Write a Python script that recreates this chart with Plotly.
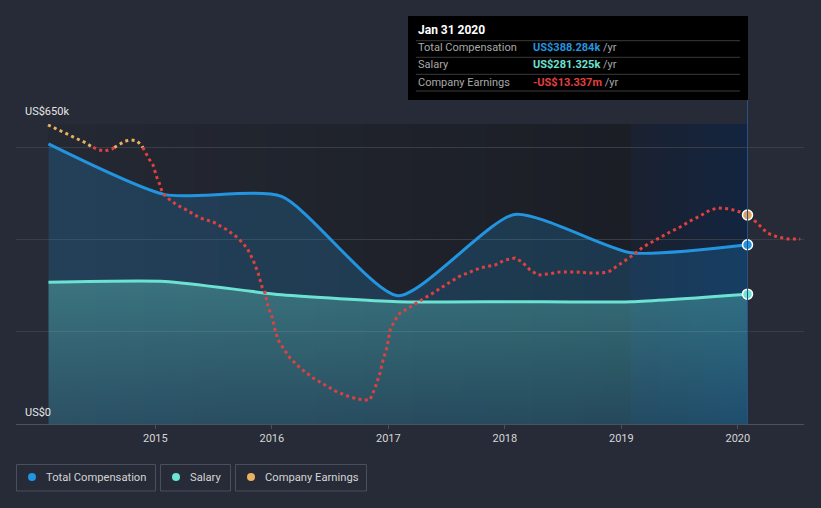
import plotly.graph_objects as go

# ---------------- data ----------------
comp_years = [2014.083, 2015.083, 2016.083, 2017.083, 2018.083, 2019.083, 2020.083]
total_comp = [607, 497, 493, 278, 454, 371, 388.284]      # US$k
salary = [307, 309, 280, 265, 265, 265, 281.325]           # US$k

earn_years = [2014.079, 2014.139, 2014.191, 2014.242, 2014.294, 2014.354, 2014.405, 2014.457,
              2014.517, 2014.568, 2014.628, 2014.680, 2014.740, 2014.791, 2014.843, 2014.886,
              2014.920, 2014.946, 2014.980, 2014.997, 2015.015, 2015.040, 2015.058, 2015.092,
              2015.135, 2015.186, 2015.238, 2015.298, 2015.384, 2015.496, 2015.616, 2015.710,
              2015.787, 2015.839, 2015.882, 2015.916, 2015.942, 2015.968, 2016.002, 2016.028,
              2016.054, 2016.097, 2016.156, 2016.242, 2016.354, 2016.457, 2016.560, 2016.671,
              2016.783, 2016.843, 2016.886, 2016.929, 2016.955, 2016.989, 2017.015, 2017.058,
              2017.101, 2017.187, 2017.290, 2017.384, 2017.504, 2017.616, 2017.788, 2017.916,
              2018.002, 2018.088, 2018.148, 2018.217, 2018.285, 2018.371, 2018.474, 2018.603,
              2018.732, 2018.835, 2018.903, 2019.006, 2019.101, 2019.187, 2019.290, 2019.402,
              2019.505, 2019.590, 2019.676, 2019.762, 2019.831, 2019.934, 2020.020, 2020.083,
              2020.166, 2020.252, 2020.338, 2020.433, 2020.536]
earnings = [4.45, 3.85, 3.26, 2.67, 2.08, 1.48, 0.89, 0.10,
            -0.49, -0.69, -0.30, 0.49, 1.28, 1.48, 1.28, 0.30,
            -1.28, -2.27, -3.46, -4.84, -6.03, -7.41, -8.79, -9.78,
            -10.57, -11.36, -11.96, -12.75, -13.93, -14.72, -16.30, -17.89,
            -19.86, -22.23, -24.80, -27.57, -28.75, -31.52, -33.50, -36.07,
            -38.04, -39.62, -41.60, -43.58, -45.55, -46.93, -48.32, -49.31,
            -49.90, -49.90, -47.53, -44.57, -42.00, -39.43, -36.07, -34.09,
            -32.71, -31.52, -30.14, -28.75, -26.98, -25.40, -23.81, -23.22,
            -22.23, -21.84, -22.63, -24.21, -25.20, -25.00, -24.60, -24.60,
            -24.80, -24.80, -24.41, -22.83, -21.25, -19.66, -18.28, -16.90,
            -15.71, -14.53, -13.54, -12.35, -11.96, -12.15, -12.75, -13.337,
            -14.92, -16.90, -17.69, -18.08, -18.08]                # US$m

tick_vals = [2015, 2016, 2017, 2018, 2019, 2020]
tick_text = ["2015", "2016", "2017", "2018", "2019", "2020"]

# ---------------- style ----------------
BG = "#262b37"
BLUE = "#2394df"
TEAL = "#6ce2d2"
ORANGE = "#e8b25e"
RED = "#e2403f"
FONT = "Roboto"

L, R, T, B = 16, 804, 124, 424  # plot area in pixels


def px(x):
    return (x - L) / (R - L)


def py(y):
    return (B - y) / (B - T)


def hexmix(c1, c2, t):
    a = [int(c1[i:i + 2], 16) for i in (1, 3, 5)]
    b = [int(c2[i:i + 2], 16) for i in (1, 3, 5)]
    return "#%02x%02x%02x" % tuple(round(a[k] + (b[k] - a[k]) * t) for k in range(3))


fig = go.Figure()

shapes = []
# dark gradient region behind the history, and highlighted last year
n = 24
x0, x1 = comp_years[0], comp_years[-2]
for i in range(n):
    a = x0 + (x1 - x0) * i / n
    b = x0 + (x1 - x0) * (i + 1) / n + 0.002
    shapes.append(dict(type="rect", xref="x", yref="paper", x0=a, x1=b, y0=0, y1=1,
                       fillcolor=hexmix("#242833", "#1b1e25", i / (n - 1)), line_width=0, layer="below"))
n2 = 8
x0, x1 = comp_years[-2], comp_years[-1]
for i in range(n2):
    a = x0 + (x1 - x0) * i / n2
    b = x0 + (x1 - x0) * (i + 1) / n2 + 0.002
    shapes.append(dict(type="rect", xref="x", yref="paper", x0=a, x1=b, y0=0, y1=1,
                       fillcolor=hexmix("#1a2131", "#13243f", i / (n2 - 1)), line_width=0, layer="below"))

# total compensation area
fig.add_trace(go.Scatter(x=comp_years, y=total_comp, mode="lines", line=dict(color=BLUE, width=3, shape="spline", smoothing=0.6),
                         fill="tozeroy", fillcolor="rgba(35,148,223,0.22)", hoverinfo="skip", showlegend=False))
# salary area
fig.add_trace(go.Scatter(x=comp_years, y=salary, mode="lines", line=dict(color=TEAL, width=3, shape="spline", smoothing=0.6),
                         fill="tozeroy",
                         fillgradient=dict(type="vertical", start=0, stop=310,
                                           colorscale=[[0, "rgba(108,226,210,0.10)"], [1, "rgba(108,226,210,0.32)"]]),
                         hoverinfo="skip", showlegend=False))

# earnings, split by sign
segs = []
cx, cv = [earn_years[0]], [earnings[0]]
pos = earnings[0] >= 0
for i in range(1, len(earn_years)):
    p = earnings[i] >= 0
    if p != pos:
        t = earnings[i - 1] / (earnings[i - 1] - earnings[i])
        xc = earn_years[i - 1] + t * (earn_years[i] - earn_years[i - 1])
        cx.append(xc)
        cv.append(0)
        segs.append((pos, cx, cv))
        cx, cv = [xc], [0]
        pos = p
    cx.append(earn_years[i])
    cv.append(earnings[i])
segs.append((pos, cx, cv))
for p, sx, sv in segs:
    fig.add_trace(go.Scatter(x=sx, y=sv, yaxis="y2", mode="lines",
                             line=dict(color=ORANGE if p else RED, width=3, dash="3px,3.4px"),
                             hoverinfo="skip", showlegend=False))

# end markers
last_i = earn_years.index(comp_years[-1])
fig.add_trace(go.Scatter(x=[comp_years[-1]], y=[total_comp[-1]], mode="markers",
                         marker=dict(color=BLUE, size=10, line=dict(color="white", width=1.5)), showlegend=False, hoverinfo="skip"))
fig.add_trace(go.Scatter(x=[comp_years[-1]], y=[salary[-1]], mode="markers",
                         marker=dict(color=TEAL, size=10, line=dict(color="white", width=1.5)), showlegend=False, hoverinfo="skip"))
fig.add_trace(go.Scatter(x=[earn_years[last_i]], y=[earnings[last_i]],
                         yaxis="y2", mode="markers",
                         marker=dict(color="#d9a260", size=10, line=dict(color="white", width=1.5)), showlegend=False, hoverinfo="skip"))

# vertical hover line
shapes.append(dict(type="line", xref="x", yref="paper", x0=comp_years[-1], x1=comp_years[-1], y0=0, y1=py(100),
                   line=dict(color="#2b5088", width=1)))
# tooltip box
shapes.append(dict(type="rect", xref="paper", yref="paper", x0=px(408), x1=px(748), y0=py(100), y1=py(16),
                   fillcolor="#000000", line_width=0))
for yy in (40.7, 57.3, 74.3, 91):
    shapes.append(dict(type="line", xref="paper", yref="paper", x0=px(416), x1=px(740), y0=py(yy), y1=py(yy),
                       line=dict(color="#3a3a3a", width=1)))

ann = []
ann.append(dict(text="<b>Jan 31 2020</b>", x=px(416), y=py(30), xref="paper", yref="paper", xanchor="left",
                yanchor="middle", showarrow=False, font=dict(family=FONT, size=12, color="white")))
rows = [("Total Compensation", "US$388.284k", BLUE, 48),
        ("Salary", "US$281.325k", TEAL, 65),
        ("Company Earnings", "-US$13.337m", RED, 82)]
for lab, val, col, yy in rows:
    ann.append(dict(text=lab, x=px(416), y=py(yy), xref="paper", yref="paper", xanchor="left", yanchor="middle",
                    showarrow=False, font=dict(family=FONT, size=11, color="#a8a8a8")))
    ann.append(dict(text="<span style='color:%s'><b>%s</b></span> /yr" % (col, val), x=px(531), y=py(yy),
                    xref="paper", yref="paper", xanchor="left", yanchor="middle",
                    showarrow=False, font=dict(family=FONT, size=11, color="#a8a8a8")))

# y labels
ann.append(dict(text="US$650k", x=px(23), y=py(112), xref="paper", yref="paper", xanchor="left", yanchor="middle",
                showarrow=False, font=dict(family=FONT, size=11, color="#e6e6e6")))
ann.append(dict(text="US$0", x=px(23), y=py(412), xref="paper", yref="paper", xanchor="left", yanchor="middle",
                showarrow=False, font=dict(family=FONT, size=11, color="#e6e6e6")))

# legend
legend_items = [("Total Compensation", BLUE, 16.5, 155.5), ("Salary", TEAL, 160.5, 230.5),
                ("Company Earnings", ORANGE, 235.5, 366.5)]
for lab, col, a, b in legend_items:
    shapes.append(dict(type="rect", xref="paper", yref="paper", x0=px(a), x1=px(b), y0=py(491), y1=py(464.5),
                       line=dict(color="#4a4f5b", width=1), fillcolor="rgba(0,0,0,0)"))
    cxp = a + 15.5
    shapes.append(dict(type="circle", xref="paper", yref="paper", x0=px(cxp - 4), x1=px(cxp + 4), y0=py(481), y1=py(473),
                       fillcolor=col, line_width=0))
    ann.append(dict(text=lab, x=px(a + 27), y=py(477.5), xref="paper", yref="paper", xanchor="left", yanchor="middle",
                    showarrow=False, font=dict(family=FONT, size=11.2, color="#d4d4d4")))

fig.update_layout(
    width=821, height=508,
    margin=dict(l=L, r=821 - R, t=T, b=508 - B),
    paper_bgcolor=BG, plot_bgcolor=BG,
    font=dict(family=FONT, color="#d0d0d0"),
    xaxis=dict(range=[2013.804, 2020.568], tickvals=tick_vals, ticktext=tick_text, showgrid=False,
               showline=True, linecolor="#4c515c", linewidth=1, ticks="outside", ticklen=4, tickcolor="#4c515c",
               tickfont=dict(family=FONT, size=11, color="#d6d6d6"), zeroline=False, fixedrange=True),
    yaxis=dict(range=[0, 650], tickvals=[200, 400, 600, 650], showticklabels=False, showgrid=True,
               gridcolor="#383d48", gridwidth=1, zeroline=False, fixedrange=True),
    yaxis2=dict(range=[-54.65, 4.64], overlaying="y", visible=False, fixedrange=True),
    shapes=shapes, annotations=ann, showlegend=False,
)

fig.write_html("out.html", config={"displayModeBar": False},
               post_script="document.body.style.margin='0';document.body.style.background='%s';" % BG)
